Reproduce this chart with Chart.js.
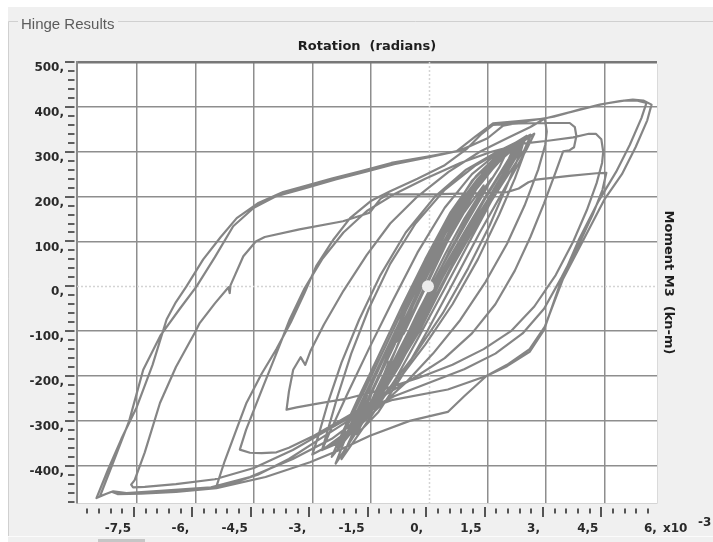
<!DOCTYPE html>
<html>
<head>
<meta charset="utf-8">
<title>Hinge Results</title>
<script src="https://cdn.jsdelivr.net/npm/chart.js@4/dist/chart.umd.min.js"></script>
<style>
  html, body { margin: 0; padding: 0; background: #f0f0f0; }
  canvas { display: block; }
</style>
</head>
<body>
<canvas id="hinge" width="713" height="542"></canvas>
<script>
// Hinge moment–rotation history. Rotation in units of 1e-3 rad, moment in kN-m.
// The trace is stored half-cycle by half-cycle, in the order it was recorded.
const s01 = [[0,0],[0.4,70],[0.9,150],[1.3,205],[1.6,240]];
const s02 = [[1.45,215],[0.95,140],[0.3,40],[-0.3,-60],[-0.85,-160],[-1.15,-210],[-1.35,-245]];
const s03 = [[-1.2,-215],[-0.85,-140],[-0.4,-40],[0.2,70],[0.8,170],[1.35,235],[1.95,292]];
const s04 = [[1.8,265],[1.25,190],[0.5,75],[-0.1,-30],[-0.7,-130],[-1.25,-225],[-1.75,-295]];
const s05 = [[-1.6,-265],[-1.15,-170],[-0.6,-55],[0.0,60],[0.6,165],[1.25,240],[1.85,295],[2.3,322]];
const s06 = [[2.15,295],[1.55,215],[0.9,120],[0.2,15],[-0.4,-90],[-1.0,-185],[-1.55,-265],[-2.05,-330]];
const s07 = [[-1.85,-295],[-1.4,-205],[-0.85,-100],[-0.3,20],[0.4,140],[1.1,235],[1.85,300],[2.5,335]];
const s07a = [[2.3,300],[1.75,215],[1.1,110],[0.4,-5],[-0.25,-110],[-0.85,-205],[-1.45,-285],[-2.25,-385]];
const s07b = [[-2.05,-345],[-1.6,-260],[-1.05,-160],[-0.45,-50],[0.15,60],[0.8,170],[1.45,250],[2.1,305],[2.7,340]];
const s07c = [[2.5,305],[1.95,220],[1.3,120],[0.6,5],[-0.05,-100],[-0.7,-200],[-1.3,-280],[-1.85,-330]];
const s07d = [[-1.65,-290],[-1.2,-205],[-1.05,-172],[-1.12,-150],[-0.65,-105],[-0.05,5],[0.55,115],[1.2,215],[1.8,280],[2.4,325]];
const s07e = [[2.2,290],[1.6,205],[0.95,105],[0.25,-10],[-0.4,-115],[-1.0,-210],[-1.6,-290],[-2.4,-395]];
const s07f = [[-2.2,-350],[-1.75,-265],[-1.2,-165],[-0.6,-55],[0.0,50],[0.65,155],[1.3,240],[1.95,300],[2.5,335]];
const s08 = [[2.35,305],[1.8,225],[1.15,135],[0.45,20],[-0.25,-100],[-0.95,-200],[-1.65,-285],[-2.5,-340],
             [-3.5,-385],[-4.6,-425],[-5.6,-448],[-6.9,-456],[-7.77,-461],[-8.11,-457],[-8.3,-463],[-8.54,-472]];
const s09 = [[-8.25,-410],[-7.9,-340],[-7.51,-270],[-7.1,-175],[-6.74,-74],[-6.5,-35],[-6.23,0],[-5.8,60],
             [-5.35,110],[-4.94,152],[-4.4,185],[-3.75,210],[-3.33,220],[-2.5,240],[-1.79,256],[-0.97,275],
             [0.0,290],[0.7,301],[1.2,335],[1.64,363],[2.3,368],[2.97,374],[3.7,390],[4.38,405],[4.9,413],
             [5.23,416],[5.5,414],[5.71,405]];
const s10 = [[5.6,370],[5.3,310],[4.95,250],[4.51,195],[4.0,110],[3.43,15],[2.97,-90],[2.58,-140],[2.0,-175],
             [1.47,-200],[0.9,-245],[0.48,-280],[-0.5,-300],[-1.52,-333],[-2.3,-365],[-3.06,-392],[-4.2,-425],
             [-5.46,-450],[-6.5,-458],[-7.4,-462],[-8.0,-463],[-8.15,-458],[-8.45,-468]];
const s11 = [[-8.1,-390],[-7.7,-300],[-7.34,-186],[-6.9,-110],[-6.4,-50],[-5.97,0],[-5.5,65],[-5.03,134],
             [-4.5,175],[-3.92,201],[-3.2,218],[-2.4,238],[-1.6,256],[-0.9,272],[0.0,288],[0.8,303],[1.5,330],
             [1.9,358],[2.5,368],[3.2,378],[3.9,395],[4.5,407],[5.0,414],[5.35,414],[5.58,409]];
const s12 = [[5.45,375],[5.15,315],[4.8,255],[4.35,190],[3.85,105],[3.4,15],[2.95,-97],[2.58,-146],[2.0,-178],
             [1.47,-200],[0.48,-230],[-0.93,-253],[-1.79,-280],[-2.6,-320],[-3.5,-365],[-4.5,-405],[-5.5,-430],
             [-6.5,-441],[-7.3,-447],[-7.6,-448],[-7.65,-442],[-7.56,-432]];
const s13 = [[-7.3,-370],[-6.91,-260],[-6.5,-180],[-6.02,-104],[-5.89,-82],[-5.5,-38],[-5.15,-2],[-5.12,-15],
             [-5.1,2],[-4.77,67],[-4.45,100],[-4.22,110],[-3.33,127],[-2.21,145],[-1.53,164],[-1.25,195],
             [-1.05,205],[0.0,205],[1.1,207],[2.0,210],[2.3,218],[2.55,232],[2.75,238],[3.6,246],[4.3,252],[4.55,253]];
const s14 = [[4.45,215],[4.2,160],[3.85,95],[3.4,20],[2.95,-50],[2.4,-105],[1.7,-150],[0.9,-185],[0.0,-215],
             [-0.9,-245],[-1.9,-290],[-2.8,-340],[-3.6,-385],[-4.4,-420],[-5.0,-437],[-5.35,-446],[-5.46,-446]];
const s15 = [[-5.25,-390],[-4.95,-320],[-4.69,-260],[-4.3,-195],[-3.92,-140],[-3.55,-80],[-3.2,-15],[-2.9,45],
             [-2.45,105],[-2.03,152],[-1.5,190],[-1.0,212],[-0.3,240],[0.4,270],[0.95,305],[1.35,340],[1.64,360],
             [2.3,363],[3.0,364],[3.61,364],[3.74,355],[3.78,335],[3.72,310],[3.6,303],[3.44,301]];
const s16 = [[3.25,255],[2.95,185],[2.6,110],[2.2,35],[1.7,-40],[1.1,-105],[0.4,-160],[-0.4,-205],[-1.3,-250],
             [-2.2,-295],[-3.0,-335],[-3.6,-360],[-3.92,-370],[-4.3,-372],[-4.6,-371],[-4.86,-364]];
const s17 = [[-4.7,-320],[-4.45,-265],[-4.26,-223],[-3.9,-145],[-3.58,-74],[-3.2,-5],[-2.75,60],[-2.2,120],
             [-1.6,168],[-0.9,205],[-0.1,240],[0.8,275],[1.6,300],[2.4,318],[3.1,325],[3.7,332],[4.1,340],
             [4.28,340],[4.42,328],[4.47,300],[4.44,275]];
const s18 = [[4.3,230],[4.05,170],[3.7,100],[3.25,25],[2.7,-45],[2.1,-100],[1.4,-140],[0.6,-175],[-0.3,-205],
             [-1.2,-230],[-2.1,-250],[-2.9,-262],[-3.4,-270],[-3.66,-275]];
const s19 = [[-3.6,-235],[-3.49,-186],[-3.3,-158],[-3.18,-175],[-3.05,-145],[-2.7,-85],[-2.2,-10],[-1.6,70],
             [-1.0,140],[-0.3,200],[0.5,255],[1.3,300],[2.0,330],[2.6,355],[2.97,374]];
const s20 = [[3.02,345],[2.98,315],[2.8,260],[2.45,180],[2.0,95],[1.45,10],[0.8,-75],[0.1,-150],[-0.6,-215],
             [-1.3,-270],[-1.9,-320],[-2.4,-352],[-2.75,-365]];
const s20a = [[-2.6,-320],[-2.35,-245],[-2.0,-150],[-1.55,-50],[-1.0,50],[-0.35,140],[0.4,215],[1.2,270],[2.0,310],[2.6,338]];
const s20b = [[2.5,310],[2.2,240],[1.8,160],[1.25,60],[0.6,-40],[-0.1,-130],[-0.8,-210],[-1.6,-290],[-2.35,-345],[-3.0,-375]];
const s20c = [[-2.85,-335],[-2.6,-260],[-2.25,-170],[-1.8,-75],[-1.25,25],[-0.6,120],[0.15,200],[0.95,260],[1.75,300],[2.45,330]];
const s20d = [[2.35,300],[2.0,225],[1.55,135],[1.0,40],[0.35,-60],[-0.35,-150],[-1.05,-230],[-1.8,-305],[-2.75,-365]];
const s21 = [[-2.55,-325],[-2.1,-240],[-1.55,-140],[-0.95,-35],[-0.3,75],[0.4,175],[1.1,250],[1.8,300],[2.45,330]];
const s22 = [[2.3,300],[1.7,220],[1.05,130],[0.35,20],[-0.3,-90],[-0.9,-190],[-1.5,-270],[-2.2,-345]];
const s23 = [[-2.0,-305],[-1.5,-215],[-0.95,-115],[-0.35,-5],[0.3,105],[0.95,200],[1.6,270],[2.2,315]];
const s24 = [[2.05,285],[1.45,200],[0.8,105],[0.1,-5],[-0.5,-115],[-1.05,-205],[-1.65,-280],[-2.35,-360]];
const s25 = [[-2.15,-320],[-1.65,-230],[-1.1,-130],[-0.5,-20],[0.15,90],[0.8,185],[1.4,255],[2.05,305],[2.6,335]];
const s26 = [[2.45,305],[1.85,225],[1.2,135],[0.5,30],[-0.15,-75],[-0.75,-175],[-1.35,-260],[-1.95,-325]];
const s27 = [[-1.75,-285],[-1.25,-195],[-0.7,-95],[-0.1,15],[0.55,125],[1.15,210],[1.75,275],[2.15,305]];
const s28 = [[2.0,275],[1.4,190],[0.75,95],[0.1,-15],[-0.55,-120],[-1.1,-210],[-1.55,-270]];
const s29 = [[-1.35,-230],[-0.85,-140],[-0.3,-35],[0.3,75],[0.9,165],[1.4,225]];
const s29a = [[1.2,190],[0.6,90],[-0.05,-20],[-0.65,-125],[-1.25,-225],[-1.85,-310],[-2.5,-380]];
const s29b = [[-2.3,-340],[-1.85,-255],[-1.3,-155],[-0.7,-45],[-0.1,60],[0.55,165],[1.2,245],[1.85,300],[2.35,325]];
const s29c = [[2.2,295],[1.65,215],[1.0,115],[0.3,0],[-0.35,-105],[-0.95,-200],[-1.5,-275],[-2.0,-335]];
const s29d = [[-1.8,-295],[-1.35,-210],[-0.8,-105],[-0.2,5],[0.4,115],[1.05,210],[1.7,280],[2.25,318]];
const s30 = [[2.1,290],[1.5,205],[0.85,105],[0.3,25],[-0.03,0]];

// Current state marker
const currentState = [[-0.03, 0]];

// Axis labels and tick values
const rotationTicks = [-7.5, -6, -4.5, -3, -1.5, 0, 1.5, 3, 4.5, 6];
const momentTicks = [-400, -300, -200, -100, 0, 100, 200, 300, 400, 500];
const panelTitle = 'Hinge Results';
const rotationTitle = 'Rotation  (radians)';
const momentTitle = 'Moment M3  (kn-m)';
const rotationMultiplier = 'x10';
const rotationExponent = '-3';

const halfCycles = [s01,s02,s03,s04,s05,s06,s07,s07a,s07b,s07c,s07d,s07e,s07f,s08,s09,s10,s11,s12,s13,s14,s15,
                    s16,s17,s18,s19,s20,s20a,s20b,s20c,s20d,s21,s22,s23,s24,s25,s26,s27,s28,s29,
                    s29a,s29b,s29c,s29d,s30];
const trace = halfCycles.flat().map(([x, y]) => ({ x, y }));

const LABEL_FONT = { family: '"DejaVu Sans", Verdana, sans-serif', weight: 'bold', size: 12 };
const decimalComma = v => Number.isInteger(v) ? v + ',' : String(v).replace('.', ',');

const GRID = '#8e8e8e';
const gridColor = ctx => {
  const v = ctx.tick ? ctx.tick.value : null;
  if (v === null) return GRID;
  if (v === 0 || v < ctx.scale.min || v > ctx.scale.max) return 'rgba(0,0,0,0)';
  if (v === 500) return '#777777';
  return GRID;
};
const gridWidth = ctx => (ctx.tick && ctx.tick.value === 500) ? 2.5 : 1.5;

// Window chrome, plot background, tick marks and titles
const chrome = {
  id: 'chrome',
  beforeDraw(chart) {
    const { ctx, chartArea: a, width, height } = chart;
    ctx.save();
    ctx.fillStyle = '#f0f0f0';
    ctx.fillRect(0, 0, width, height);
    ctx.fillStyle = '#ffffff';
    ctx.fillRect(0, 0, width, 7);
    ctx.fillRect(0, 0, 8, height);
    ctx.strokeStyle = '#d0d0d0';
    ctx.lineWidth = 1;
    ctx.beginPath();
    ctx.moveTo(8.5, height - 6); ctx.lineTo(8.5, 21.5); ctx.lineTo(18, 21.5);
    ctx.moveTo(118, 21.5); ctx.lineTo(width, 21.5);
    ctx.stroke();
    ctx.fillStyle = '#fbfbfb';
    ctx.fillRect(8, height - 6, width - 8, 1);
    ctx.fillStyle = '#c6c6c6';
    ctx.fillRect(98, height - 3, 47, 3);
    ctx.font = '15px "Liberation Sans", Arial, sans-serif';
    ctx.fillStyle = '#5c5c5c';
    ctx.textAlign = 'left';
    ctx.textBaseline = 'alphabetic';
    ctx.fillText(panelTitle, 21, 28.5);
    ctx.fillStyle = '#ffffff';
    ctx.fillRect(a.left, a.top, a.right - a.left, a.bottom - a.top);
    ctx.restore();
  },
  beforeDatasetsDraw(chart) {
    const { ctx, chartArea: a, scales } = chart;
    const x0 = Math.round(scales.x.getPixelForValue(0)) + 0.5;
    const y0 = Math.round(scales.y.getPixelForValue(0)) + 0.5;
    ctx.save();
    ctx.strokeStyle = '#d4d4d4';
    ctx.lineWidth = 1.5;
    ctx.setLineDash([2, 2]);
    ctx.beginPath();
    ctx.moveTo(x0, a.top); ctx.lineTo(x0, a.bottom);
    ctx.moveTo(a.left, y0); ctx.lineTo(a.right, y0);
    ctx.stroke();
    ctx.restore();
  },
  afterDraw(chart) {
    const { ctx, chartArea: a, scales } = chart;
    const xs = scales.x, ys = scales.y;
    ctx.save();
    // right edge of the plot
    ctx.strokeStyle = '#dadada';
    ctx.lineWidth = 1;
    ctx.beginPath();
    ctx.moveTo(a.right + 0.5, a.top + 2); ctx.lineTo(a.right + 0.5, a.bottom);
    ctx.stroke();
    // tick marks: majors at labelled values, minors in between
    ctx.strokeStyle = '#2e2e2e';
    ctx.lineWidth = 1.6;
    ctx.beginPath();
    for (let k = -90; k <= 60; k += 3) {
      const px = Math.round(xs.getPixelForValue(k / 10)) - 3;
      if (px < a.left + 3 || px > a.right) continue;
      const major = k % 15 === 0;
      ctx.moveTo(px, a.bottom + (major ? 4 : 5.5));
      ctx.lineTo(px, a.bottom + (major ? 14 : 10.5));
    }
    for (let m = -480; m <= 500; m += 20) {
      const py = Math.round(ys.getPixelForValue(m));
      const major = m % 100 === 0;
      ctx.moveTo(a.left - (major ? 12 : 9), py);
      ctx.lineTo(a.left - 2.5, py);
    }
    ctx.stroke();
    // titles
    ctx.fillStyle = '#1e1e1e';
    ctx.font = 'bold 13px "DejaVu Sans", Verdana, sans-serif';
    ctx.textAlign = 'center';
    ctx.textBaseline = 'alphabetic';
    ctx.fillText(rotationTitle, (a.left + a.right) / 2, a.top - 12.5);
    ctx.save();
    ctx.translate(a.right + 11, (a.top + a.bottom) / 2);
    ctx.rotate(Math.PI / 2);
    ctx.textBaseline = 'middle';
    ctx.fillText(momentTitle, 0, 0);
    ctx.restore();
    // axis multiplier
    ctx.fillStyle = '#2a2a2a';
    ctx.font = 'bold 12px "DejaVu Sans", Verdana, sans-serif';
    ctx.textAlign = 'left';
    ctx.fillText(rotationMultiplier, a.right + 6, a.bottom + 29);
    ctx.fillText(rotationExponent, a.right + 41, a.bottom + 23);
    ctx.restore();
  }
};

new Chart(document.getElementById('hinge'), {
  type: 'scatter',
  data: {
    datasets: [
      {
        data: currentState.map(([x, y]) => ({ x, y })),
        pointRadius: 6,
        pointBackgroundColor: '#ebebeb',
        pointBorderWidth: 0,
        showLine: false
      },
      {
        data: trace,
        showLine: true,
        borderColor: '#858585',
        borderWidth: 2.2,
        borderJoinStyle: 'round',
        borderCapStyle: 'round',
        pointRadius: 0,
        fill: false,
        tension: 0
      }
    ]
  },
  options: {
    responsive: false,
    animation: false,
    devicePixelRatio: 1,
    layout: { padding: { top: 62, right: 56, left: 0, bottom: 0 } },
    plugins: { legend: { display: false }, tooltip: { enabled: false } },
    scales: {
      x: {
        type: 'linear',
        min: -9.04,
        max: 5.85,
        afterBuildTicks: s => { s.ticks = rotationTicks.map(v => ({ value: v })); },
        afterFit: s => { s.height = 39; },
        grid: { color: gridColor, lineWidth: gridWidth, drawTicks: false },
        border: { display: true, color: '#d4d4d4', width: 1 },
        ticks: {
          align: 'end', labelOffset: -6, padding: 19, autoSkip: false, maxRotation: 0,
          color: '#2a2a2a', font: LABEL_FONT, callback: v => decimalComma(v)
        }
      },
      y: {
        type: 'linear',
        min: -483,
        max: 500,
        afterBuildTicks: s => { s.ticks = momentTicks.map(v => ({ value: v })); },
        afterFit: s => { s.width = 77; },
        grid: { color: gridColor, lineWidth: gridWidth, drawTicks: false },
        border: { display: true, color: '#8a8a8a', width: 2 },
        ticks: {
          padding: 13, labelOffset: 6, autoSkip: false,
          color: '#2a2a2a', font: LABEL_FONT, callback: v => decimalComma(v)
        }
      }
    }
  },
  plugins: [chrome]
});
</script>
</body>
</html>
